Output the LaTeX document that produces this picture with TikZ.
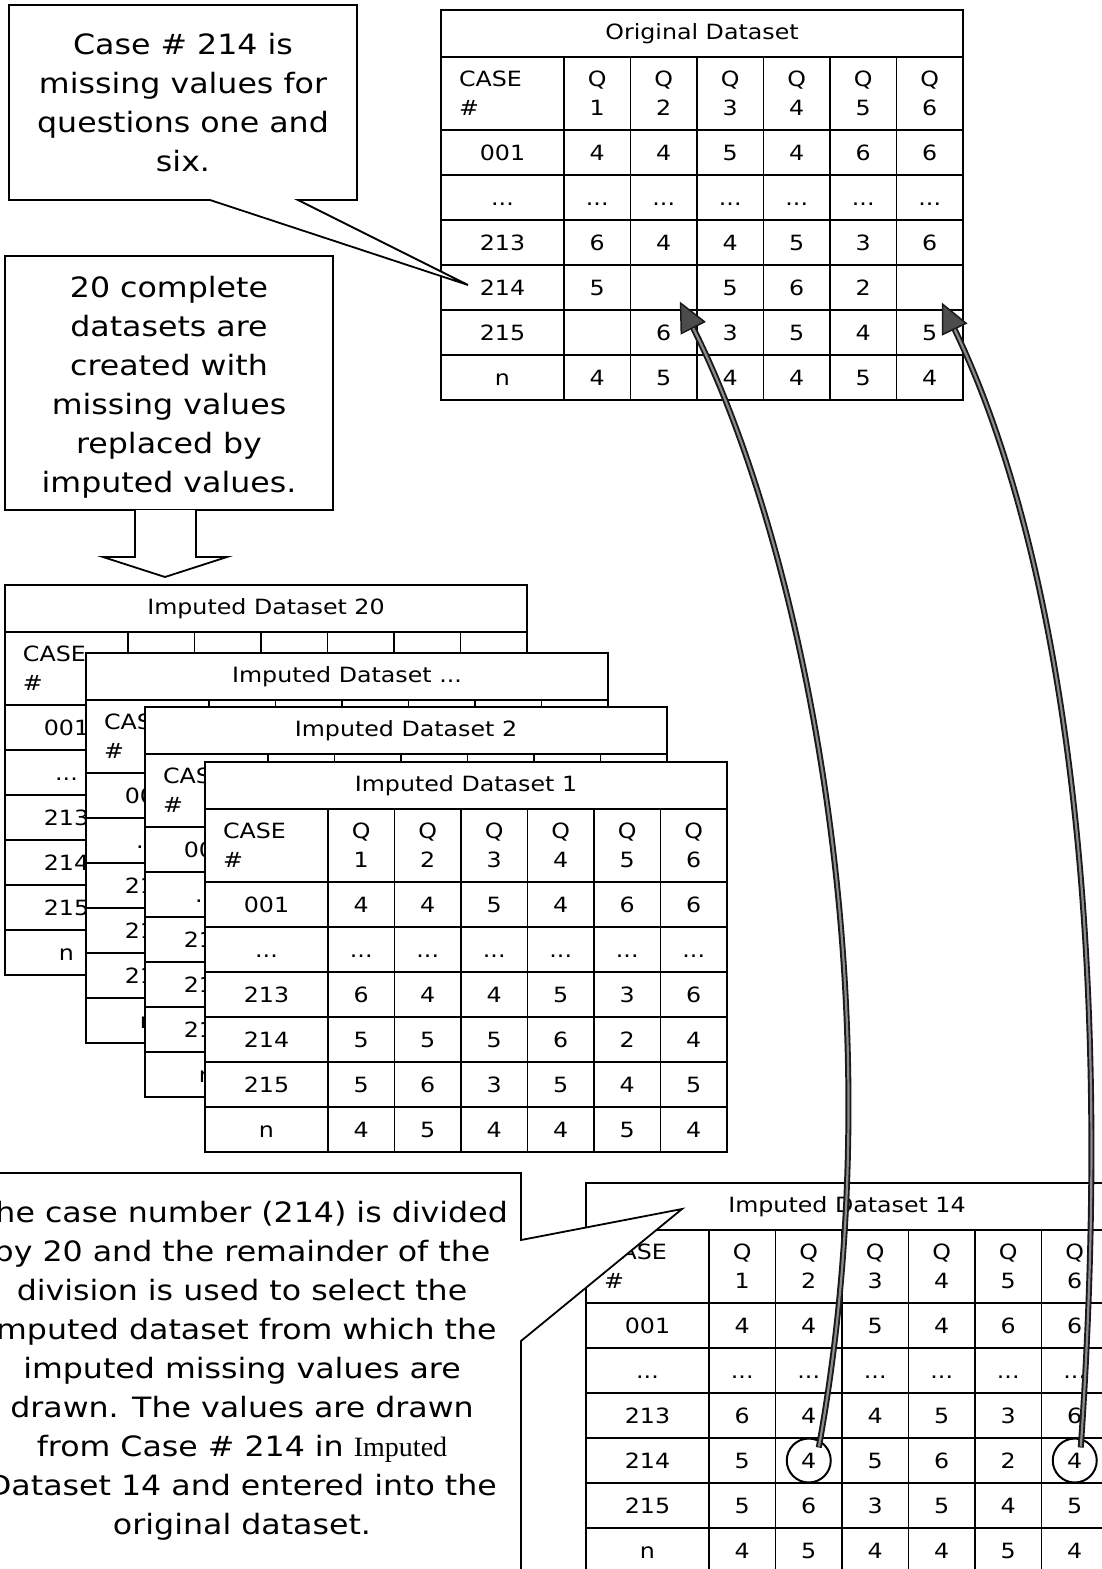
\documentclass[tikz,border=0pt]{standalone}
\usepackage{fontspec}
\setmainfont{DejaVu Sans}[FakeStretch=1.13]
\newfontfamily\romanfont{Liberation Serif}
\usetikzlibrary{arrows.meta}

\newcommand{\notefont}{\fontsize{28}{39}\selectfont}
\newcommand{\cellfont}{\fontsize{21}{29}\selectfont}
\newcommand{\elide}{...}

% rows of a table: case, Q1 ... Q6
\newcommand{\originalrows}{{001,4,4,5,4,6,6},{\elide,\elide,\elide,\elide,\elide,\elide,\elide},{213,6,4,4,5,3,6},{214,5,{},5,6,2,{}},{215,{},6,3,5,4,5},{n,4,5,4,4,5,4}}
\newcommand{\fullrows}{{001,4,4,5,4,6,6},{\elide,\elide,\elide,\elide,\elide,\elide,\elide},{213,6,4,4,5,3,6},{214,5,5,5,6,2,4},{215,5,6,3,5,4,5},{n,4,5,4,4,5,4}}
\newcommand{\pickedrows}{{001,4,4,5,4,6,6},{\elide,\elide,\elide,\elide,\elide,\elide,\elide},{213,6,4,4,5,3,6},{214,5,4,5,6,2,4},{215,5,6,3,5,4,5},{n,4,5,4,4,5,4}}
% tables lying under others only show their case column
\newcommand{\backrows}{{001},{\elide},{213},{214},{215},{n}}

\tikzset{
    gridline/.style={draw, line width=1.8pt},
    titlecell/.style={gridline, fill=white, minimum width=522pt, minimum height=47pt, inner sep=0pt, font=\cellfont},
    headcell/.style={gridline, fill=white, minimum height=73pt, inner sep=0pt, font=\cellfont},
    datacell/.style={gridline, fill=white, minimum height=45pt, inner sep=0pt, text height=15pt, text depth=0pt, font=\cellfont},
    note/.style={align=center, inner sep=0pt, font=\notefont},
    balloon/.style={line width=1.8pt, draw, fill=white, line join=miter},
    ring/.style={circle, draw, line width=2pt, minimum size=44pt, inner sep=0pt},
    carry/.style={line width=6pt, draw=black!90, -{Triangle[length=30pt, width=28pt, fill=black!70, line width=1.5pt]}},
    carrycore/.style={line width=2.2pt, draw=black!45, shorten >=30pt, shorten <=1pt}
}

% one dataset table, #2 is its top left corner, #5 the text of the Q heads
\newcommand{\dataset}[5]{%
    \begin{scope}[shift={#2}]
        \node[titlecell] (#1-t) at (261,23.5) {#3};
        \node[headcell, minimum width=123pt, text width=87pt, align=left] (#1-0-0) at (61.5,83.5) {CASE\\\#};
        \foreach \q in {1,...,6}
            \node[headcell, minimum width=66.5pt, align=center] (#1-0-\q) at (89.75+66.5*\q,83.5) {#5};
        \foreach \row [count=\r] in #4 {
            \foreach \v [count=\c from 0] in \row {
                \pgfmathsetmacro{\cx}{\c==0 ? 61.5 : 89.75+66.5*\c}
                \pgfmathsetmacro{\cw}{\c==0 ? 123 : 66.5}
                \node[datacell, minimum width=\cw pt] (#1-\r-\c) at (\cx,97.5+45*\r) {\v};
            }
        }
    \end{scope}}

\begin{document}
\begin{tikzpicture}[x=1pt, y=-1pt]

    \useasboundingbox (0,0) rectangle (1102,1569);
    \fill[white] (0,0) rectangle (1102,1569);
    \clip (0,0) rectangle (1102,1569);

    % original data with gaps
    \dataset{orig}{(441,10)}{Original Dataset}{\originalrows}{Q\\\q}

    % callouts at the top
    \draw[balloon] (9,5) -- (357,5) -- (357,200) -- (298,200) -- (468,285) -- (210,200) -- (9,200) -- cycle;
    \node[note] (gapnote) at (183,103) {Case \# 214 is\\missing values for\\questions one and\\six.};

    \draw[balloon] (5,256) rectangle (333,510);
    \node[note] (twentynote) at (169,387) {20 complete\\datasets are\\created with\\missing values\\replaced by\\imputed values.};
    \draw[line width=1.8pt, fill=white] (135,510) -- (135,557) -- (103,557) -- (165,577) -- (227,557) -- (196,557) -- (196,510);

    % stack of imputed datasets
    \dataset{imp20}{(5,585)}{Imputed Dataset 20}{\backrows}{}
    \dataset{impdots}{(86,653)}{Imputed Dataset \elide}{\backrows}{}
    \dataset{imp2}{(145,707)}{Imputed Dataset 2}{\backrows}{}
    \dataset{imp1}{(205,762)}{Imputed Dataset 1}{\fullrows}{Q\\\q}

    % the chosen dataset
    \dataset{imp14}{(586,1183)}{Imputed Dataset 14}{\pickedrows}{Q\\\q}

    \draw[balloon] (-20,1173) -- (521,1173) -- (521,1240) -- (682,1209) -- (521,1341) -- (521,1600) -- (-20,1600) -- cycle;
    \node[note] (choicenote) at (242,1371) {The case number (214) is divided\\by 20 and the remainder of the\\division is used to select the\\imputed dataset from which the\\imputed missing values are\\drawn. The values are drawn\\from Case \# 214 in {\romanfont Imputed}\\Dataset 14 and entered into the\\original dataset.};

    \node[ring] (pickq2) at (imp14-4-2) {};
    \node[ring] (pickq6) at (imp14-4-6) {};

    % values carried back into the original dataset
    \coordinate (fromq2) at ([shift={(10,-13)}]pickq2.center);
    \coordinate (toq2) at ([shift={(16,14)}]orig-4-2.center);
    \coordinate (fromq6) at ([shift={(6,-13)}]pickq6.center);
    \coordinate (toq6) at ([shift={(12,15)}]orig-4-6.center);

    \draw[carry] (fromq2) .. controls (900,1000) and (800,540) .. (toq2);
    \draw[carrycore] (fromq2) .. controls (900,1000) and (800,540) .. (toq2);
    \draw[carry] (fromq6) .. controls (1115,950) and (1065,560) .. (toq6);
    \draw[carrycore] (fromq6) .. controls (1115,950) and (1065,560) .. (toq6);

\end{tikzpicture}
\end{document}
